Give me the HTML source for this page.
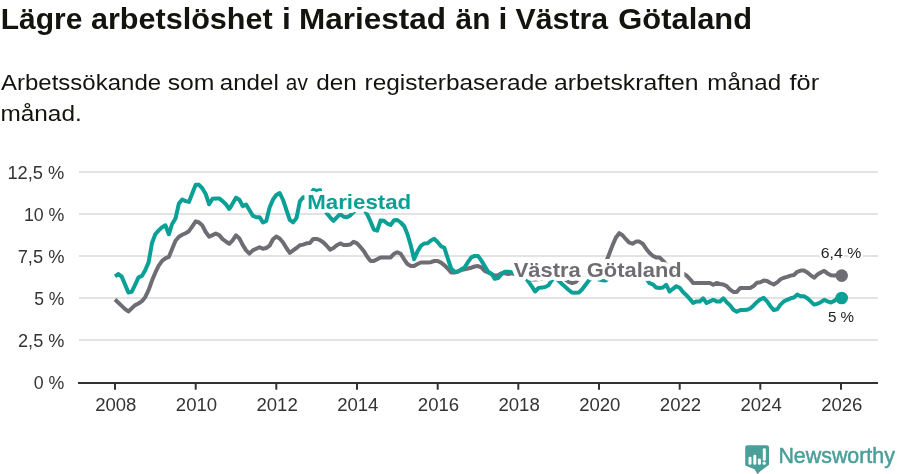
<!DOCTYPE html>
<html lang="sv"><head><meta charset="utf-8"><title>Lägre arbetslöshet i Mariestad än i Västra Götaland</title>
<style>
html,body{margin:0;padding:0;background:#fff;}
body{width:900px;height:474px;overflow:hidden;font-family:"Liberation Sans",sans-serif;}
svg{display:block;will-change:transform;}
text{font-family:"Liberation Sans",sans-serif;}
.title{font-weight:bold;font-size:30px;fill:#14140f;}
.sub{font-size:22.5px;fill:#14140f;}
.ax{font-size:17.5px;fill:#333333;}
.lab{font-weight:bold;font-size:21px;paint-order:stroke;stroke:#fff;stroke-width:8px;stroke-linejoin:round;}
.val{font-size:15px;fill:#222;paint-order:stroke;stroke:#fff;stroke-width:4px;stroke-linejoin:round;}
</style></head><body>
<svg width="900" height="474" viewBox="0 0 900 474">
<rect width="900" height="474" fill="#fff"/>
<text class="title" y="28.7"> <tspan x="0.7" textLength="81.7" lengthAdjust="spacingAndGlyphs">Lägre</tspan> <tspan x="90.98" textLength="181.7" lengthAdjust="spacingAndGlyphs">arbetslöshet</tspan> <tspan x="281.98" textLength="8.84" lengthAdjust="spacingAndGlyphs">i</tspan> <tspan x="299.0" textLength="147.07" lengthAdjust="spacingAndGlyphs">Mariestad</tspan> <tspan x="455.6" textLength="34.81" lengthAdjust="spacingAndGlyphs">än</tspan> <tspan x="498.48" textLength="8.84" lengthAdjust="spacingAndGlyphs">i</tspan> <tspan x="515.6" textLength="92.43" lengthAdjust="spacingAndGlyphs">Västra</tspan> <tspan x="618.37" textLength="133.7" lengthAdjust="spacingAndGlyphs">Götaland</tspan> </text>
<text class="sub" y="89.6"> <tspan x="1.0" textLength="160.08" lengthAdjust="spacingAndGlyphs">Arbetssökande</tspan> <tspan x="167.7" textLength="46.77" lengthAdjust="spacingAndGlyphs">som</tspan> <tspan x="219.83" textLength="58.91" lengthAdjust="spacingAndGlyphs">andel</tspan> <tspan x="285.87" textLength="22.01" lengthAdjust="spacingAndGlyphs">av</tspan> <tspan x="316.32" textLength="40.57" lengthAdjust="spacingAndGlyphs">den</tspan> <tspan x="364.51" textLength="183.32" lengthAdjust="spacingAndGlyphs">registerbaserade</tspan> <tspan x="554.0" textLength="144.46" lengthAdjust="spacingAndGlyphs">arbetskraften</tspan> <tspan x="707.33" textLength="73.73" lengthAdjust="spacingAndGlyphs">månad</tspan> <tspan x="789.5" textLength="29.6" lengthAdjust="spacingAndGlyphs">för</tspan> </text>
<text class="sub" y="120.7"> <tspan x="0.42" textLength="81.32" lengthAdjust="spacingAndGlyphs">månad.</tspan> </text>
<line x1="79" x2="878" y1="172" y2="172" stroke="#e3e3e3" stroke-width="2"/>
<line x1="79" x2="878" y1="214" y2="214" stroke="#e3e3e3" stroke-width="2"/>
<line x1="79" x2="878" y1="256" y2="256" stroke="#e3e3e3" stroke-width="2"/>
<line x1="79" x2="878" y1="298" y2="298" stroke="#e3e3e3" stroke-width="2"/>
<line x1="79" x2="878" y1="340" y2="340" stroke="#e3e3e3" stroke-width="2"/>
<text class="ax" x="64.4" y="178.5" text-anchor="end" textLength="57.0" lengthAdjust="spacingAndGlyphs">12,5 %</text>
<text class="ax" x="64.4" y="220.5" text-anchor="end" textLength="40.5" lengthAdjust="spacingAndGlyphs">10 %</text>
<text class="ax" x="64.4" y="262.5" text-anchor="end" textLength="46.7" lengthAdjust="spacingAndGlyphs">7,5 %</text>
<text class="ax" x="64.4" y="304.5" text-anchor="end" textLength="30.1" lengthAdjust="spacingAndGlyphs">5 %</text>
<text class="ax" x="64.4" y="346.5" text-anchor="end" textLength="46.4" lengthAdjust="spacingAndGlyphs">2,5 %</text>
<text class="ax" x="64.4" y="388.5" text-anchor="end" textLength="30.6" lengthAdjust="spacingAndGlyphs">0 %</text>
<line x1="78" x2="878" y1="383" y2="383" stroke="#333333" stroke-width="2"/>
<line x1="115.0" x2="115.0" y1="383" y2="389.7" stroke="#333333" stroke-width="2"/>
<text class="ax" x="115.8" y="410.7" text-anchor="middle" textLength="41.3" lengthAdjust="spacingAndGlyphs">2008</text>
<line x1="195.7" x2="195.7" y1="383" y2="389.7" stroke="#333333" stroke-width="2"/>
<text class="ax" x="196.5" y="410.7" text-anchor="middle" textLength="41.3" lengthAdjust="spacingAndGlyphs">2010</text>
<line x1="276.3" x2="276.3" y1="383" y2="389.7" stroke="#333333" stroke-width="2"/>
<text class="ax" x="277.1" y="410.7" text-anchor="middle" textLength="41.3" lengthAdjust="spacingAndGlyphs">2012</text>
<line x1="357.0" x2="357.0" y1="383" y2="389.7" stroke="#333333" stroke-width="2"/>
<text class="ax" x="357.8" y="410.7" text-anchor="middle" textLength="41.3" lengthAdjust="spacingAndGlyphs">2014</text>
<line x1="437.7" x2="437.7" y1="383" y2="389.7" stroke="#333333" stroke-width="2"/>
<text class="ax" x="438.5" y="410.7" text-anchor="middle" textLength="41.3" lengthAdjust="spacingAndGlyphs">2016</text>
<line x1="518.3" x2="518.3" y1="383" y2="389.7" stroke="#333333" stroke-width="2"/>
<text class="ax" x="519.1" y="410.7" text-anchor="middle" textLength="41.3" lengthAdjust="spacingAndGlyphs">2018</text>
<line x1="599.0" x2="599.0" y1="383" y2="389.7" stroke="#333333" stroke-width="2"/>
<text class="ax" x="599.8" y="410.7" text-anchor="middle" textLength="41.3" lengthAdjust="spacingAndGlyphs">2020</text>
<line x1="679.7" x2="679.7" y1="383" y2="389.7" stroke="#333333" stroke-width="2"/>
<text class="ax" x="680.5" y="410.7" text-anchor="middle" textLength="41.3" lengthAdjust="spacingAndGlyphs">2022</text>
<line x1="760.3" x2="760.3" y1="383" y2="389.7" stroke="#333333" stroke-width="2"/>
<text class="ax" x="761.1" y="410.7" text-anchor="middle" textLength="41.3" lengthAdjust="spacingAndGlyphs">2024</text>
<line x1="841.0" x2="841.0" y1="383" y2="389.7" stroke="#333333" stroke-width="2"/>
<text class="ax" x="841.8" y="410.7" text-anchor="middle" textLength="41.3" lengthAdjust="spacingAndGlyphs">2026</text>
<path d="M115.0,299.6 L118.4,302.7 L121.7,305.9 L125.1,309.1 L128.4,311.4 L131.8,308.3 L135.2,305.1 L138.5,303.5 L141.9,301.2 L145.2,297.2 L148.6,290.1 L152.0,280.6 L155.3,272.7 L158.7,265.6 L162.1,260.8 L165.4,258.4 L168.8,256.9 L172.1,249.0 L175.5,240.7 L178.9,236.7 L182.2,234.8 L185.6,233.2 L188.9,231.2 L192.3,226.4 L195.7,221.4 L199.0,222.5 L202.4,225.6 L205.7,232.0 L209.1,236.7 L212.5,235.1 L215.8,233.5 L219.2,235.1 L222.6,239.1 L225.9,241.5 L229.3,243.8 L232.6,240.4 L236.0,235.3 L239.4,238.4 L242.7,244.9 L246.1,250.4 L249.4,253.6 L252.8,250.4 L256.2,248.8 L259.5,247.2 L262.9,248.8 L266.2,248.0 L269.6,245.7 L273.0,239.3 L276.3,236.6 L279.7,238.5 L283.1,242.5 L286.4,248.0 L289.8,252.8 L293.1,250.4 L296.5,248.0 L299.9,245.2 L303.2,244.6 L306.6,243.3 L309.9,243.0 L313.3,238.9 L316.7,238.9 L320.0,240.1 L323.4,242.5 L326.7,245.7 L330.1,249.6 L333.5,248.0 L336.8,245.2 L340.2,243.4 L343.6,245.0 L346.9,245.0 L350.3,244.5 L353.6,241.8 L357.0,243.4 L360.4,246.9 L363.7,250.9 L367.1,256.5 L370.4,260.9 L373.8,260.9 L377.2,259.3 L380.5,257.4 L383.9,257.4 L387.2,257.4 L390.6,257.4 L394.0,253.8 L397.3,252.2 L400.7,253.8 L404.1,259.3 L407.4,264.0 L410.8,265.9 L414.1,265.9 L417.5,264.0 L420.9,262.5 L424.2,262.5 L427.6,262.5 L430.9,262.2 L434.3,261.0 L437.7,261.0 L441.0,262.6 L444.4,265.3 L447.7,268.5 L451.1,272.5 L454.5,272.5 L457.8,271.5 L461.2,270.1 L464.6,269.3 L467.9,268.5 L471.3,267.7 L474.6,266.5 L478.0,266.1 L481.4,267.4 L484.7,270.9 L488.1,272.5 L491.4,274.0 L494.8,275.6 L498.2,275.3 L501.5,273.3 L504.9,273.3 L508.2,274.0 L511.6,273.3 L515.0,274.0 L518.3,275.0 L521.7,276.5 L525.1,278.0 L528.4,279.0 L531.8,279.4 L535.1,279.4 L538.5,279.3 L541.9,278.5 L545.2,278.0 L548.6,277.5 L551.9,277.5 L555.3,277.0 L558.7,276.0 L562.0,278.0 L565.4,279.5 L568.7,281.8 L572.1,283.0 L575.5,282.0 L578.8,279.0 L582.2,276.0 L585.6,274.5 L588.9,274.0 L592.3,274.0 L595.6,273.0 L599.0,272.0 L602.4,270.0 L605.7,263.0 L609.1,254.3 L612.4,245.6 L615.8,237.7 L619.2,233.2 L622.5,235.3 L625.9,239.2 L629.2,242.7 L632.6,243.7 L636.0,241.6 L639.3,241.6 L642.7,243.7 L646.1,248.7 L649.4,252.7 L652.8,255.9 L656.1,257.4 L659.5,257.4 L662.9,260.6 L666.2,264.5 L669.6,267.5 L672.9,270.0 L676.3,271.5 L679.7,272.5 L683.0,273.5 L686.4,275.5 L689.7,278.8 L693.1,282.9 L696.5,282.9 L699.8,282.9 L703.2,282.9 L706.6,282.9 L709.9,282.9 L713.3,284.8 L716.6,282.9 L720.0,284.0 L723.4,284.5 L726.7,286.1 L730.1,289.6 L733.4,291.9 L736.8,291.9 L740.2,288.0 L743.5,288.0 L746.9,288.0 L750.2,288.0 L753.6,286.1 L757.0,282.7 L760.3,282.2 L763.7,280.6 L767.1,281.1 L770.4,283.0 L773.8,284.5 L777.1,282.4 L780.5,279.3 L783.9,277.7 L787.2,276.9 L790.6,275.6 L793.9,275.0 L797.3,271.8 L800.7,270.6 L804.0,270.6 L807.4,272.5 L810.7,275.3 L814.1,277.7 L817.5,274.5 L820.8,272.5 L824.2,270.9 L827.5,273.4 L830.9,275.3 L834.3,275.6 L837.6,275.3 L841.0,275.3" fill="none" stroke="#6e6d74" stroke-width="4" stroke-linejoin="round" stroke-linecap="butt"/>
<path d="M115.0,276.3 L118.4,274.0 L121.7,276.6 L125.1,284.6 L128.4,292.5 L131.8,291.7 L135.2,284.6 L138.5,277.4 L141.9,275.9 L145.2,270.3 L148.6,262.4 L152.0,243.0 L155.3,234.3 L158.7,230.4 L162.1,227.2 L165.4,225.3 L168.8,234.3 L172.1,224.0 L175.5,218.5 L178.9,203.5 L182.2,199.5 L185.6,201.1 L188.9,201.9 L192.3,193.2 L195.7,184.8 L199.0,184.8 L202.4,188.4 L205.7,194.0 L209.1,204.3 L212.5,198.7 L215.8,198.4 L219.2,198.4 L222.6,201.1 L225.9,204.3 L229.3,209.0 L232.6,203.6 L236.0,197.7 L239.4,199.8 L242.7,206.1 L246.1,204.5 L249.4,210.0 L252.8,215.6 L256.2,217.2 L259.5,217.2 L262.9,222.4 L266.2,221.1 L269.6,207.6 L273.0,199.5 L276.3,195.0 L279.7,193.0 L283.1,200.0 L286.4,210.0 L289.8,220.0 L293.1,222.4 L296.5,218.0 L299.9,201.3 L303.2,197.2 L306.6,198.0 L309.9,196.5 L313.3,190.0 L316.7,191.0 L320.0,190.1 L323.4,208.0 L326.7,213.3 L330.1,217.3 L333.5,220.9 L336.8,217.3 L340.2,213.9 L343.6,216.8 L346.9,217.3 L350.3,215.4 L353.6,211.9 L357.0,209.0 L360.4,207.0 L363.7,209.0 L367.1,214.2 L370.4,221.2 L373.8,229.5 L377.2,230.6 L380.5,220.6 L383.9,220.8 L387.2,223.5 L390.6,225.0 L394.0,220.3 L397.3,220.0 L400.7,222.5 L404.1,226.0 L407.4,234.0 L410.8,245.5 L414.1,259.3 L417.5,251.4 L420.9,245.9 L424.2,243.5 L427.6,243.2 L430.9,240.5 L434.3,238.8 L437.7,242.2 L441.0,246.2 L444.4,247.9 L447.7,258.2 L451.1,268.5 L454.5,271.7 L457.8,271.7 L461.2,269.3 L464.6,267.4 L467.9,262.2 L471.3,257.4 L474.6,255.9 L478.0,255.9 L481.4,260.6 L484.7,266.1 L488.1,271.7 L491.4,273.7 L494.8,278.8 L498.2,278.0 L501.5,274.1 L504.9,271.7 L508.2,271.7 L511.6,272.2 L515.0,272.0 L518.3,273.0 L521.7,275.0 L525.1,277.0 L528.4,281.6 L531.8,286.4 L535.1,291.5 L538.5,288.0 L541.9,287.6 L545.2,287.0 L548.6,285.3 L551.9,280.0 L555.3,277.0 L558.7,280.9 L562.0,284.0 L565.4,287.0 L568.7,290.0 L572.1,292.6 L575.5,292.8 L578.8,292.6 L582.2,289.3 L585.6,284.8 L588.9,280.4 L592.3,277.5 L595.6,278.0 L599.0,279.6 L602.4,280.3 L605.7,280.6 L609.1,277.6 L612.4,276.6 L615.8,276.3 L619.2,276.3 L622.5,276.3 L625.9,276.3 L629.2,276.3 L632.6,276.3 L636.0,276.3 L639.3,276.5 L642.7,276.8 L646.1,278.2 L649.4,283.2 L652.8,284.3 L656.1,287.5 L659.5,288.0 L662.9,287.5 L666.2,284.8 L669.6,291.5 L672.9,288.8 L676.3,286.2 L679.7,287.8 L683.0,292.0 L686.4,295.2 L689.7,298.8 L693.1,303.0 L696.5,301.4 L699.8,301.4 L703.2,298.3 L706.6,303.0 L709.9,301.4 L713.3,299.8 L716.6,301.4 L720.0,301.4 L723.4,298.3 L726.7,302.2 L730.1,305.4 L733.4,309.8 L736.8,311.7 L740.2,310.1 L743.5,310.1 L746.9,309.8 L750.2,308.5 L753.6,305.4 L757.0,302.0 L760.3,299.4 L763.7,297.9 L767.1,301.4 L770.4,306.2 L773.8,310.1 L777.1,309.3 L780.5,304.6 L783.9,301.4 L787.2,299.8 L790.6,298.3 L793.9,297.5 L797.3,294.6 L800.7,296.2 L804.0,296.2 L807.4,298.3 L810.7,301.4 L814.1,304.6 L817.5,303.8 L820.8,302.2 L824.2,299.8 L827.5,301.4 L830.9,302.5 L834.3,300.9 L837.6,298.3 L841.0,297.8" fill="none" stroke="#0aa096" stroke-width="4" stroke-linejoin="round" stroke-linecap="butt"/>
<circle cx="841.7" cy="275.6" r="6.3" fill="#6e6d74"/>
<circle cx="841.7" cy="298.0" r="6.3" fill="#0aa096"/>
<text class="lab" x="307.2" y="208.8" fill="#0aa096" textLength="104" lengthAdjust="spacingAndGlyphs">Mariestad</text>
<text class="lab" x="513.7" y="276.7" fill="#6e6d74" textLength="168" lengthAdjust="spacingAndGlyphs">Västra Götaland</text>
<text class="val" x="841.0" y="257.8" text-anchor="middle" textLength="40.5" lengthAdjust="spacingAndGlyphs">6,4 %</text>
<text class="val" x="841.0" y="321.5" text-anchor="middle" textLength="26.2" lengthAdjust="spacingAndGlyphs">5 %</text>
<g><path d="M747.4,445.2 h19.4 a2.2,2.2 0 0 1 2.2,2.2 v17.3 l-9.6,7.2 l-1.7,2.6 l-3.2,-5.2 l-9.3,-3.9 v-18 a2.2,2.2 0 0 1 2.2,-2.2 z" fill="#4a9f99"/><rect x="748.5" y="456.8" width="3" height="7.9" rx="1.3" fill="#fff"/><rect x="753.3" y="454.7" width="3" height="10" rx="1.3" fill="#fff"/><rect x="757.9" y="458.5" width="3" height="6.2" rx="1.3" fill="#fff"/><rect x="762.8" y="448.2" width="3" height="12.6" rx="1.3" fill="#fff"/><circle cx="764.2" cy="463.2" r="1.6" fill="#fff"/></g>
<text x="778.4" y="463" font-size="21.4" fill="#4a9f99" stroke="#4a9f99" stroke-width="0.5" textLength="116.5" lengthAdjust="spacingAndGlyphs" style="font-family:'Liberation Sans',sans-serif;">Newsworthy</text>
</svg></body></html>
